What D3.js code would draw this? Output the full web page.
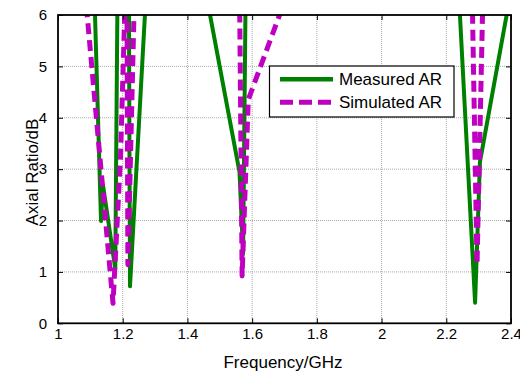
<!DOCTYPE html>
<html>
<head>
<meta charset="utf-8">
<script src="https://cdn.jsdelivr.net/npm/d3@7"></script>
<style>
  html, body { margin: 0; padding: 0; background: #fff; }
  svg { display: block; }
  text { font-family: "Liberation Sans", Arial, Helvetica, sans-serif; fill: #000; }
</style>
</head>
<body>
<svg id="chart" width="520" height="376"></svg>
<script>
// Axial ratio versus frequency: measured and simulated traces.
// Points above 6 dB lie outside the visible range and are clipped.
const measuredFreq = [1.112, 1.133, 1.139, 1.177, 1.184, 1.219, 1.2225, 1.273,
                      1.455, 1.561, 1.572, 1.580,
                      2.238, 2.289, 2.304, 2.401];
const measuredAR   = [6.5, 1.99, 2.69, 1.06, 6.5, 6.5, 0.72, 6.5,
                      6.5, 2.94, 1.35, 6.5,
                      6.5, 0.40, 3.14, 6.5];

const simulatedFreq = [1.083, 1.170, 1.193, 1.2085, 1.213, 1.216, 1.2367,
                       1.561, 1.569, 1.588, 1.714,
                       2.2797, 2.295, 2.3137];
const simulatedAR   = [6.5, 0.39, 3.2, 6.5, 6.5, 1.14, 6.5,
                       6.5, 0.92, 4.35, 6.5,
                       6.5, 1.14, 6.5];

const xTicks = [1, 1.2, 1.4, 1.6, 1.8, 2, 2.2, 2.4];
const yTicks = [0, 1, 2, 3, 4, 5, 6];
const seriesNames = ["Measured AR", "Simulated AR"];
const xTitle = "Frequency/GHz";
const yTitle = "Axial Ratio/dB";

const green = "#008000";
const magenta = "#c000c0";

const svg = d3.select("#chart");
const plotLeft = 58, plotRight = 511, plotTop = 15, plotBottom = 323.3;

const x = d3.scaleLinear().domain([1, 2.4]).range([plotLeft, plotRight]);
const y = d3.scaleLinear().domain([0, 6]).range([plotBottom, plotTop]);

// dotted grid
const grid = svg.append("g").attr("stroke", "#a8a8a8").attr("stroke-width", 1)
  .attr("stroke-dasharray", "1,1");
grid.selectAll("line.v").data(xTicks.slice(1, -1)).join("line").attr("class", "v")
  .attr("x1", d => x(d)).attr("x2", d => x(d)).attr("y1", plotTop).attr("y2", plotBottom);
grid.selectAll("line.h").data(yTicks.slice(1, -1)).join("line").attr("class", "h")
  .attr("y1", d => y(d)).attr("y2", d => y(d)).attr("x1", plotLeft).attr("x2", plotRight);

// plot clip
svg.append("clipPath").attr("id", "plotClip").append("rect")
  .attr("x", plotLeft).attr("y", plotTop)
  .attr("width", plotRight - plotLeft).attr("height", plotBottom - plotTop);

const line = d3.line().x(d => x(d[0])).y(d => y(d[1]));
const measured = measuredFreq.map((f, i) => [f, measuredAR[i]]);
const simulated = simulatedFreq.map((f, i) => [f, simulatedAR[i]]);

const plot = svg.append("g").attr("clip-path", "url(#plotClip)");
plot.append("path").datum(measured).attr("d", line)
  .attr("fill", "none").attr("stroke", green).attr("stroke-width", 4)
  .attr("stroke-linejoin", "round").attr("stroke-linecap", "round");
plot.append("path").datum(simulated).attr("d", line)
  .attr("fill", "none").attr("stroke", magenta).attr("stroke-width", 5)
  .attr("stroke-dasharray", "11,6").attr("stroke-linejoin", "round");

// axes with inward ticks on all four sides
const fmt = d => String(d);
const axB = svg.append("g").attr("transform", `translate(0,${plotBottom})`)
  .call(d3.axisBottom(x).tickValues(xTicks).tickFormat(fmt).tickSizeInner(-5).tickSizeOuter(0).tickPadding(5));
const axL = svg.append("g").attr("transform", `translate(${plotLeft},0)`)
  .call(d3.axisLeft(y).tickValues(yTicks).tickFormat(fmt).tickSizeInner(-5).tickSizeOuter(0).tickPadding(11));
const axT = svg.append("g").attr("transform", `translate(0,${plotTop})`)
  .call(d3.axisTop(x).tickValues(xTicks).tickFormat("").tickSizeInner(-5).tickSizeOuter(0));
const axR = svg.append("g").attr("transform", `translate(${plotRight},0)`)
  .call(d3.axisRight(y).tickValues(yTicks).tickFormat("").tickSizeInner(-5).tickSizeOuter(0));
[axB, axL, axT, axR].forEach(a => {
  a.select(".domain").remove();
  a.selectAll(".tick line").attr("stroke", "#000").attr("stroke-width", 1);
  a.selectAll("text").attr("font-size", 15).attr("font-family", null);
});

svg.append("rect").attr("x", plotLeft).attr("y", plotTop)
  .attr("width", plotRight - plotLeft).attr("height", plotBottom - plotTop)
  .attr("fill", "none").attr("stroke", "#000").attr("stroke-width", 1.8);

// axis titles
svg.append("text").attr("x", 283).attr("y", 368.3).attr("text-anchor", "middle")
  .attr("font-size", 17).text(xTitle);
svg.append("text").attr("transform", "translate(38.3,172) rotate(-90)")
  .attr("text-anchor", "middle").attr("font-size", 17).text(yTitle);

// legend
const lg = svg.append("g");
lg.append("rect").attr("x", 269.5).attr("y", 66).attr("width", 184.5).attr("height", 51)
  .attr("fill", "#fff").attr("stroke", "#000").attr("stroke-width", 1.2);
const styles = [
  { color: green, width: 4.5, dash: null },
  { color: magenta, width: 5, dash: "13,6" }
];
seriesNames.forEach((name, i) => {
  const yy = 79.3 + i * 23;
  lg.append("line").attr("x1", 280).attr("x2", 333).attr("y1", yy).attr("y2", yy)
    .attr("stroke", styles[i].color).attr("stroke-width", styles[i].width)
    .attr("stroke-dasharray", styles[i].dash);
  lg.append("text").attr("x", 339).attr("y", yy + 5.5).attr("font-size", 17).text(name);
});
</script>
</body>
</html>
